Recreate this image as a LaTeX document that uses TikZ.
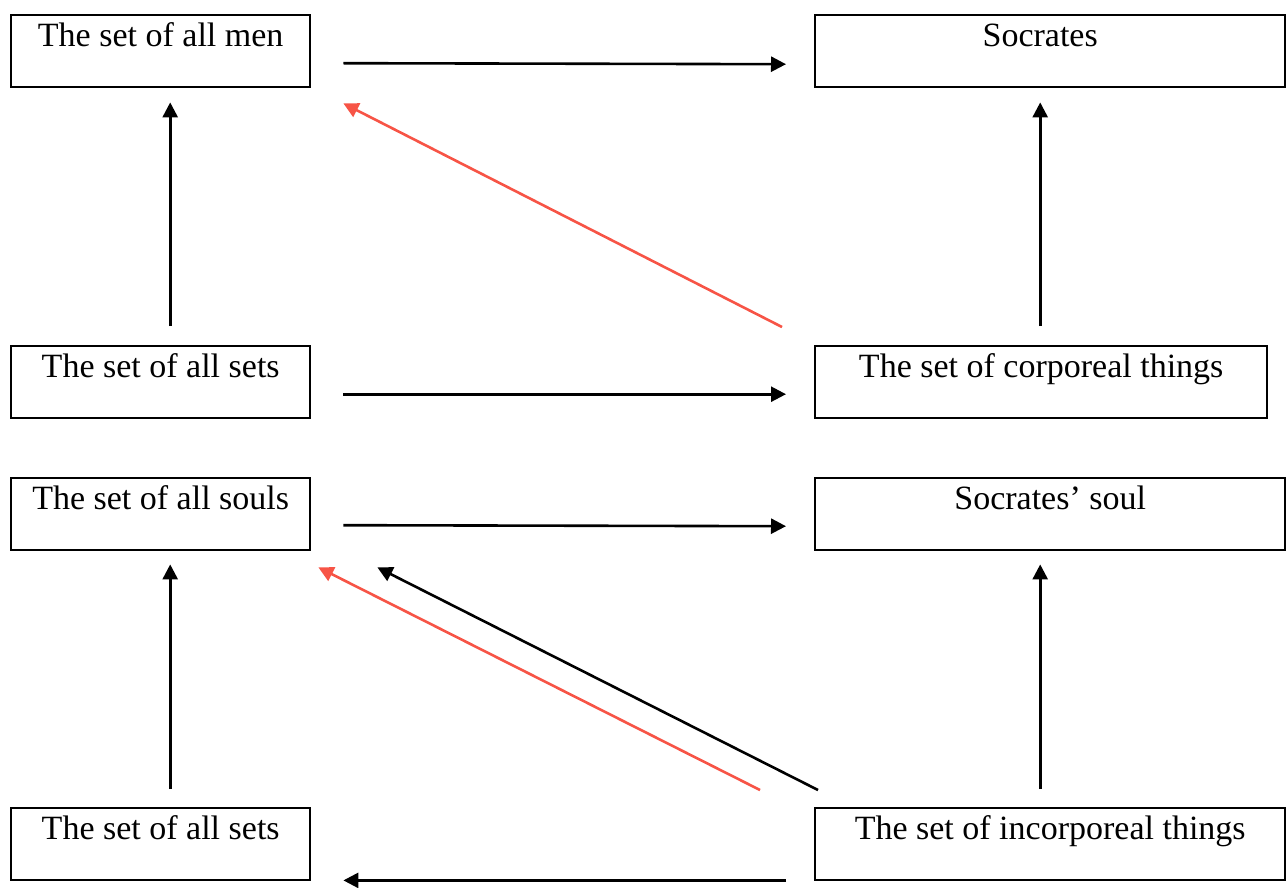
\documentclass[tikz,border=0pt]{standalone}
\usepackage{fontspec}
\setmainfont{Liberation Serif}
\usetikzlibrary{arrows.meta}
\definecolor{redarrow}{RGB}{247,84,70}
\tikzset{
  box/.style={draw, line width=1.2pt, anchor=north west, inner xsep=0pt, inner ysep=0pt,
    text height=15.5pt, text depth=20.5pt, minimum width=149.5pt,
    font=\fontsize{17}{20}\selectfont},
  arr/.style={line width=1.3pt, -{Triangle[length=7.5pt,width=7.5pt]}},
  redarr/.style={arr, draw=redarrow, fill=redarrow},
}
\begin{document}
\begin{tikzpicture}[x=0.5pt,y=-0.5pt]
\useasboundingbox (0,0) rectangle (1287,888);
\node[box] (men) at (10,14) {The set of all men};
\node[box, minimum width=235pt] (soc) at (814,14) {Socrates\hspace*{10pt}};
\node[box] (sets1) at (10,345) {The set of all sets};
\node[box, minimum width=226pt] (corp) at (814,345) {The set of corporeal things};
\node[box] (souls) at (10,477) {The set of all souls};
\node[box, minimum width=235pt] (ssoul) at (814,477) {Socrates’ soul};
\node[box] (sets2) at (10,807) {The set of all sets};
\node[box, minimum width=235pt] (incorp) at (814,807) {The set of incorporeal things};

\draw[arr] ([shift={(32,12)}]men.east) -- ([shift={(-28,13)}]soc.west);
\draw[arr] ([shift={(9.5,-19)}]sets1.north) -- ([shift={(9.5,14)}]men.south);
\draw[redarr] ([shift={(-32,-18)}]corp.north west) -- ([shift={(32,15)}]men.south east);
\draw[arr] ([shift={(-1,-19)}]corp.north) -- ([shift={(-10,14)}]soc.south);
\draw[arr] ([shift={(32,12)}]sets1.east) -- ([shift={(-28,12)}]corp.west);
\draw[arr] ([shift={(32,11)}]souls.east) -- ([shift={(-28,12)}]ssoul.west);
\draw[arr] ([shift={(9.5,-18)}]sets2.north) -- ([shift={(9.5,13)}]souls.south);
\draw[arr] ([shift={(4,-17)}]incorp.north west) -- ([shift={(66,16)}]souls.south east);
\draw[redarr] ([shift={(-54,-17)}]incorp.north west) -- ([shift={(7,16)}]souls.south east);
\draw[arr] ([shift={(-10,-18)}]incorp.north) -- ([shift={(-10,13)}]ssoul.south);
\draw[arr] ([shift={(-28,-1)}]incorp.south west) -- ([shift={(32,-1)}]sets2.south east);
\end{tikzpicture}
\end{document}
